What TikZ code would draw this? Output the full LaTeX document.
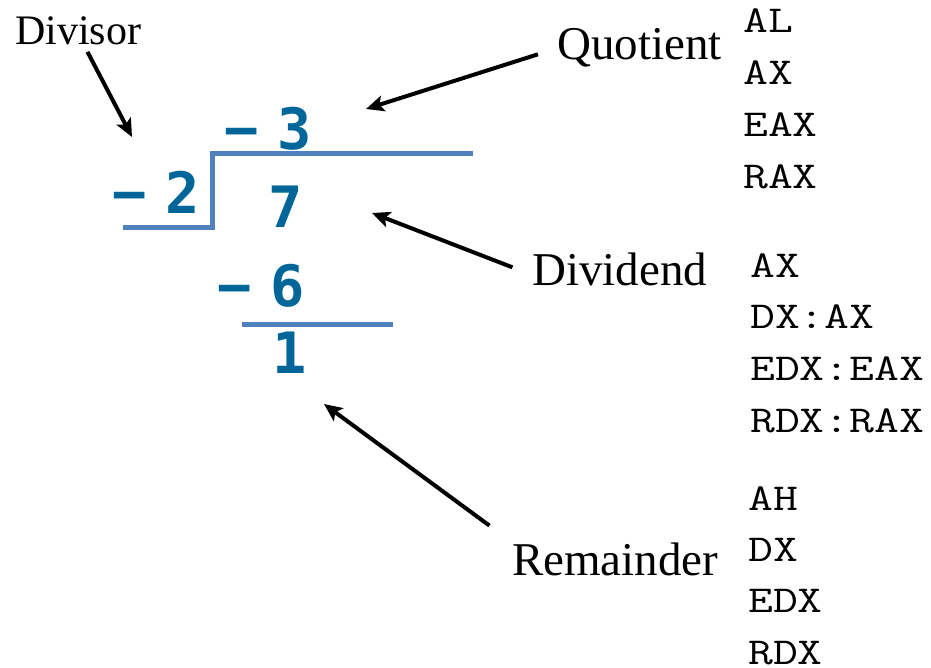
\documentclass[tikz,border=0pt]{standalone}
\usepackage{fontspec}
\setmainfont{Liberation Serif}
\newfontfamily\digitfont[WordSpace=0.53]{DejaVu Sans Mono}
\newfontfamily\regfont[FakeStretch=1.27]{Latin Modern Mono}
\usepackage{tikz}
\usetikzlibrary{arrows.meta}
\definecolor{numblue}{HTML}{006699}
\definecolor{lineblue}{HTML}{4F81BD}

\begin{document}
\begin{tikzpicture}[x=1pt, y=-1pt,
  lbl/.style={font=\fontsize{47}{47}\selectfont, inner sep=0pt, anchor=base west},
  reg/.style={font=\regfont\fontsize{38}{38}\selectfont, inner sep=0pt, anchor=base west},
  num/.style={font=\digitfont\bfseries\fontsize{57}{57}\selectfont, text=numblue, inner sep=0pt, anchor=base},
  bar/.style={draw=lineblue, line width=5pt},
  ptr/.style={-{Stealth[length=18pt,width=16pt,inset=4pt]}, line width=4pt},
]
\useasboundingbox (0,0) rectangle (931,668);
% the division
\node[num] (quo) at (268,150) {− 3};
\node[num] (dvs) at (156,214) {− 2};
\node[num] (dvd) at (286,228) {7};
\node[num] (sub) at (261,306) {− 6};
\node[num] (rem) at (290,373) {1};
\draw[bar] (123,228) -- (212,228) -- (212,154) -- (473,154);
\draw[bar] (242,324) -- (393,324);
% labels
\node[lbl, font=\fontsize{42}{42}\selectfont] (divisorlbl) at (15,45) {Divisor};
\node[lbl] (quotientlbl) at (557,60) {Quotient};
\node[lbl] (dividendlbl) at (532,285) {Dividend};
\node[lbl] (remainderlbl) at (512,575) {Remainder};
\coordinate (divisortip) at (132,137);
\coordinate (quotienttip) at (366,109);
\coordinate (dividendtip) at (372,213);
\coordinate (remaindertip) at (324,404);
\draw[ptr, shorten <=7pt] ([xshift=6pt]divisorlbl.south) -- (divisortip);
\draw[ptr, shorten <=20pt] (quotientlbl.west) -- (quotienttip);
\draw[ptr, shorten <=21pt] ([yshift=-6pt]dividendlbl.west) -- (dividendtip);
\draw[ptr, shorten <=28pt] (remainderlbl.north west) -- (remaindertip);
% registers
\foreach \reg [count=\i from 0] in {AL,AX,EAX,RAX}
  \node[reg] (q\i) at (743,33+51.7*\i) {\reg};
\foreach \reg [count=\i from 0] in {AX,DX:AX,EDX:EAX,RDX:RAX}
  \node[reg] (d\i) at (750,277+51.7*\i) {\reg};
\foreach \reg [count=\i from 0] in {AH,DX,EDX,RDX}
  \node[reg] (r\i) at (748,510+51.4*\i) {\reg};
\end{tikzpicture}
\end{document}
